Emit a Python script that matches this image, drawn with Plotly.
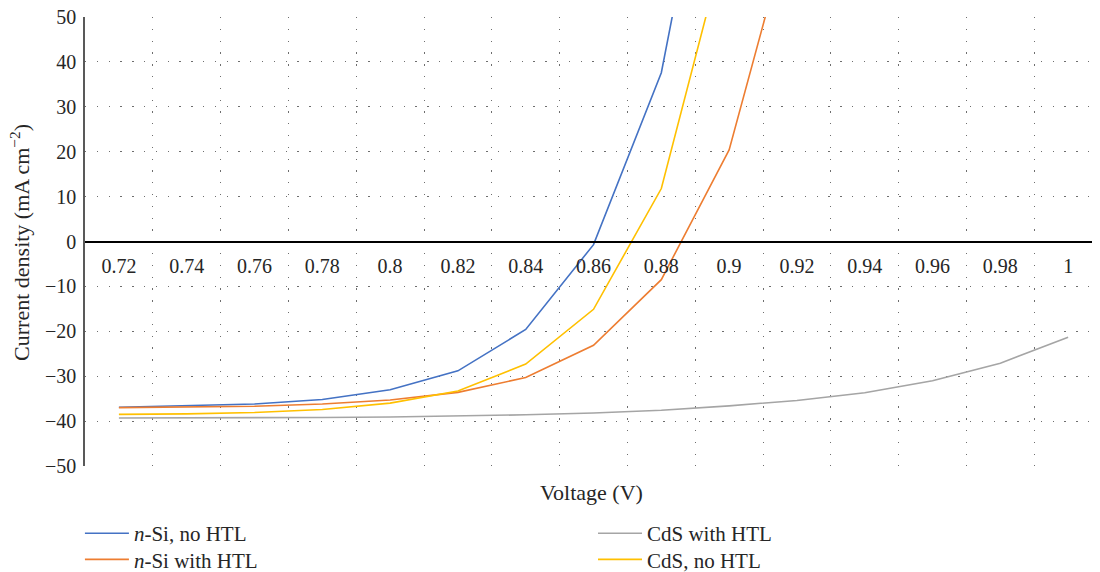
import plotly.graph_objects as go

voltage = ["0.72", "0.74", "0.76", "0.78", "0.8", "0.82", "0.84", "0.86",
           "0.88", "0.9", "0.92", "0.94", "0.96", "0.98", "1"]

nsi_no_htl = [-36.9, -36.6, -36.2, -35.2, -33.0, -28.8, -19.6, -0.7, 37.6, 115.0]
nsi_htl = [-37.0, -36.9, -36.7, -36.2, -35.3, -33.6, -30.3, -23.1, -8.5, 20.4, 76.0]
cds_htl = [-39.3, -39.3, -39.2, -39.2, -39.1, -38.9, -38.6, -38.2, -37.6, -36.6,
           -35.4, -33.7, -31.0, -27.1, -21.3]
cds_no_htl = [-38.5, -38.4, -38.1, -37.4, -36.0, -33.3, -27.3, -15.1, 11.8, 70.0]

series = [
    ("<i>n</i>-Si, no HTL", nsi_no_htl, "#4472C4", "legend"),
    ("<i>n</i>-Si with HTL", nsi_htl, "#ED7D31", "legend3"),
    ("CdS with HTL", cds_htl, "#A5A5A5", "legend2"),
    ("CdS, no HTL", cds_no_htl, "#FFC000", "legend4"),
]

FONT = "'Liberation Serif', 'Times New Roman', Times, serif"
TXT = "#262626"

fig = go.Figure()
for name, vals, col, leg in series:
    fig.add_trace(go.Scatter(
        x=voltage[:len(vals)], y=vals, mode="lines", name=name,
        line=dict(color=col, width=1.6), legend=leg,
    ))

legend_common = dict(
    orientation="v", xanchor="left", yanchor="top", itemwidth=44,
    font=dict(family=FONT, size=21, color=TXT),
    bgcolor="rgba(0,0,0,0)",
)
ROW1, ROW2 = -0.105, -0.163
COL1, COL2 = -0.005, 0.5005

fig.update_layout(
    width=1092, height=564,
    margin=dict(l=77, r=0, t=9, b=106, autoexpand=False),
    plot_bgcolor="white", paper_bgcolor="white",
    font=dict(family=FONT, size=21, color=TXT),
    showlegend=True,
    legend=dict(x=COL1, y=ROW1, **legend_common),
    legend2=dict(x=COL2, y=ROW1, **legend_common),
    legend3=dict(x=COL1, y=ROW2, **legend_common),
    legend4=dict(x=COL2, y=ROW2, **legend_common),
    annotations=[
        dict(text="Voltage (V)", xref="paper", yref="paper", x=0.4995, y=-0.058,
             xanchor="center", yanchor="middle", showarrow=False,
             font=dict(family=FONT, size=22, color=TXT)),
        dict(text="Current density (mA cm<sup>\u22122</sup>)", xref="paper", yref="paper",
             x=-0.064, y=0.497, xanchor="center", yanchor="middle", textangle=-90,
             showarrow=False, font=dict(family=FONT, size=22, color=TXT)),
    ],
)

fig.update_xaxes(
    type="category", categoryorder="array", categoryarray=voltage,
    range=[-0.5, 14.47], automargin=False,
    anchor="free", position=0.5,
    showline=True, linecolor="black", linewidth=1.5,
    tickson="boundaries", ticks="outside", ticklen=24,
    tickcolor="rgba(0,0,0,0)", ticklabelstandoff=7,
    showgrid=True, gridcolor="#6e6e6e", gridwidth=1.3, griddash="1.3px,10.5px",
    tickfont=dict(family=FONT, size=20, color=TXT),
    zeroline=False,
)

fig.update_yaxes(
    range=[-50, 50], dtick=10, tick0=0, automargin=False,
    showline=True, linecolor="#595959", linewidth=1.5,
    ticks="outside", ticklen=5, tickcolor="rgba(0,0,0,0)",
    ticklabeloverflow="allow", ticklabelstandoff=-2,
    showgrid=True, gridcolor="#6e6e6e", gridwidth=1.3, griddash="1.3px,10.5px",
    zeroline=False,
    tickfont=dict(family=FONT, size=20, color=TXT),
)

fig.write_html("out.html")
